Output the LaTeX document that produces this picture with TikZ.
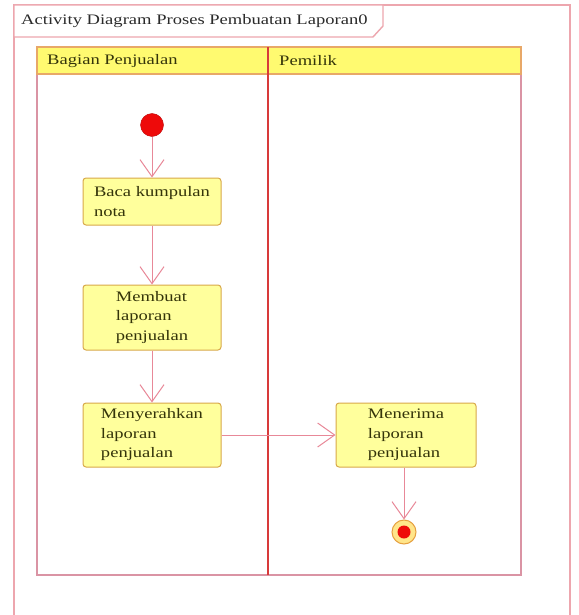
\documentclass[tikz,border=0pt]{standalone}
\usepackage{fontspec}
\setmainfont{Liberation Serif}[FakeStretch=1.28]
\usetikzlibrary{arrows.meta}

\definecolor{framepink}{HTML}{EDA6AE}
\definecolor{lanered}{HTML}{DA94A4}
\definecolor{headedge}{HTML}{E8A868}
\definecolor{divred}{HTML}{D83A3A}
\definecolor{headyellow}{HTML}{FFFA70}
\definecolor{boxfill}{HTML}{FFFF9C}
\definecolor{boxedge}{HTML}{D8A84A}
\definecolor{flowpink}{HTML}{E88898}
\definecolor{textolive}{HTML}{34340A}
\definecolor{titlegray}{HTML}{2A2A2A}
\definecolor{startred}{HTML}{EE0A0A}
\definecolor{endring}{HTML}{FFE58A}
\definecolor{endedge}{HTML}{E6A040}

\tikzset{
  labelfont/.style={font=\fontsize{14.5}{19.5}\selectfont},
  action/.style={draw=boxedge, fill=boxfill, line width=1pt, rounded corners=3pt,
    align=left, inner sep=0pt, text=textolive, labelfont},
  lanehead/.style={anchor=west, text=textolive, labelfont, inner sep=0pt},
  flow/.style={draw=flowpink, line width=1pt,
    -{Straight Barb[length=17pt,width=24pt,line width=1pt]}},
  startnode/.style={circle, fill=startred, draw=startred!80!black, line width=0.4pt,
    minimum size=23pt, inner sep=0pt},
  endnode/.style={circle, fill=endring, draw=endedge, line width=1pt,
    minimum size=24pt, inner sep=0pt},
}

\begin{document}
\begin{tikzpicture}[x=1pt,y=-1pt]
  \path[use as bounding box, clip] (0,0) rectangle (578,615);
  \fill[white] (0,0) rectangle (578,615);

  % diagram frame and its name tab
  \draw[framepink, line width=1.6pt, fill=white] (14,5) rectangle (570,630);
  \draw[framepink, line width=1.4pt, fill=white] (14,5) -- (383,5) -- (383,26)
    -- (373,37) -- (14,37) -- cycle;
  \node[anchor=west, text=titlegray, labelfont, inner sep=0pt] (title) at (21,21)
    {Activity Diagram Proses Pembuatan Laporan0};

  % swimlanes
  \draw[lanered, line width=1.3pt, fill=white] (37,74) rectangle (521,575);
  \draw[headedge, line width=1.2pt, fill=headyellow] (37,47) rectangle (521,74);
  \draw[divred, line width=1.2pt] (268,47) -- (268,575);
  \node[lanehead] (laneA) at (47,61) {Bagian Penjualan};
  \node[lanehead] (laneB) at (279,61) {Pemilik};

  % activity nodes
  \node[startnode] (init) at (152,125) {};
  \node[action, minimum width=138pt, minimum height=47pt] (baca) at (152,201.5)
    {Baca kumpulan\\nota};
  \node[action, minimum width=138pt, minimum height=65pt] (buat) at (152,317.5)
    {Membuat\\laporan\\penjualan};
  \node[action, minimum width=138pt, minimum height=64pt] (serah) at (152,435)
    {Menyerahkan\\laporan\\penjualan};
  \node[action, minimum width=140pt, minimum height=64pt] (terima) at (406,435)
    {Menerima\\laporan\\penjualan};
  \node[endnode] (final) at (404,532) {};
  \fill[startred] (final.center) circle (6.5);

  % control flows
  \draw[flow] (init) -- (baca);
  \draw[flow] (baca) -- (buat);
  \draw[flow] (buat) -- (serah);
  \draw[flow] (serah) -- (terima);
  \draw[flow] (terima.south -| final) -- (final);
\end{tikzpicture}
\end{document}
